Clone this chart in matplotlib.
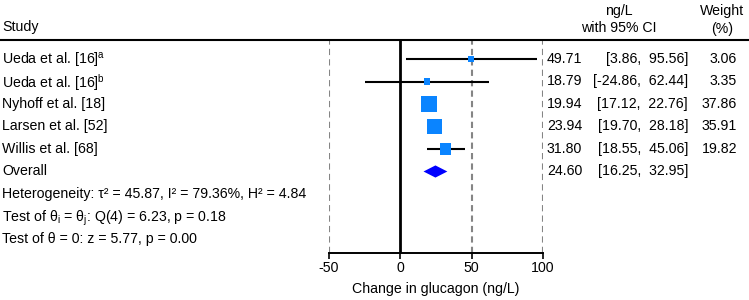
import matplotlib
matplotlib.use("Agg")
import matplotlib.pyplot as plt
from matplotlib import transforms
from matplotlib.lines import Line2D
from matplotlib.patches import Polygon

plt.rcParams['font.family'] = ['Liberation Sans', 'DejaVu Sans']
plt.rcParams['mathtext.fontset'] = 'custom'
plt.rcParams['mathtext.rm'] = 'Liberation Sans'
plt.rcParams['mathtext.it'] = 'Liberation Sans:italic'

# study-level data
studies = [r'Ueda et al. [16]$^\mathrm{a}$', r'Ueda et al. [16]$^\mathrm{b}$',
           'Nyhoff et al. [18]', 'Larsen et al. [52]', 'Willis et al. [68]']
est = [49.71, 18.79, 19.94, 23.94, 31.80]
ci_lo = [3.86, -24.86, 17.12, 19.70, 18.55]
ci_hi = [95.56, 62.44, 22.76, 28.18, 45.06]
weight = [3.06, 3.35, 37.86, 35.91, 19.82]

# pooled estimate
overall_est = 24.60
overall_lo = 16.25
overall_hi = 32.95

stats_lines = [
    'Heterogeneity: τ² = 45.87, I² = 79.36%, H² = 4.84',
    r'Test of θ$_\mathrm{i}$ = θ$_\mathrm{j}$: Q(4) = 6.23, p = 0.18',
    'Test of θ = 0: z = 5.77, p = 0.00',
]
xticks = [-50, 0, 50, 100]

fs = 10.2
W, H = 749, 300
fig = plt.figure(figsize=(W / 100, H / 100), dpi=100)
ax = fig.add_axes([329 / W, 1 - 253 / H, (543 - 329) / W, (253 - 40) / H])

row_h = 22.5
ax.set_xlim(-50, 100)
ax.set_ylim((253 - 59) / row_h, (40 - 59) / row_h)

for s in ['top', 'left', 'right']:
    ax.spines[s].set_visible(False)
ax.spines['bottom'].set_linewidth(1.4)
ax.set_yticks([])
ax.set_xticks(xticks)
ax.set_xticklabels([str(t) for t in xticks])
ax.tick_params(axis='x', length=4, width=1.2, labelsize=fs, pad=1.5)
ax.set_xlabel('Change in glucagon (ng/L)', fontsize=fs, labelpad=5)

# reference lines
for xv in [-50, 50, 100]:
    ax.axvline(xv, color='#858585', lw=1.5, ls=(0, (3, 2)), zorder=1)
ax.axvline(0, color='black', lw=2, zorder=2)

# study estimates
rows = list(range(len(studies)))
ax.hlines(rows, ci_lo, ci_hi, color='black', lw=1.5, zorder=3)
ax.scatter(est, rows, s=[max(3.5 * w, 19) for w in weight], marker='s',
           color='#0a84ff', zorder=4, linewidths=0)

# overall diamond
r0 = len(studies)
diamond = Polygon([(overall_lo, r0), (overall_est, r0 - 0.27),
                   (overall_hi, r0), (overall_est, r0 + 0.27)],
                  closed=True, color='#0000ff', zorder=4, lw=0)
ax.add_patch(diamond)

# text columns
tr = transforms.blended_transform_factory(fig.transFigure, ax.transData)
va = 'center_baseline'
dy = -0.07  # small nudge so text sits level with the markers
for i, name in enumerate(studies):
    y = i + dy
    fig.text(2 / W, y, name, transform=tr, va=va, ha='left', fontsize=fs)
    fig.text(547 / W, y, f'{est[i]:.2f}', transform=tr, va=va, ha='left', fontsize=fs)
    fig.text(688 / W, y, f'[{ci_lo[i]:.2f},  {ci_hi[i]:.2f}]', transform=tr,
             va=va, ha='right', fontsize=fs)
    fig.text(737 / W, y, f'{weight[i]:.2f}', transform=tr, va=va, ha='right', fontsize=fs)

y = r0 + dy
fig.text(2 / W, y, 'Overall', transform=tr, va=va, ha='left', fontsize=fs)
fig.text(547 / W, y, f'{overall_est:.2f}', transform=tr, va=va, ha='left', fontsize=fs)
fig.text(688 / W, y, f'[{overall_lo:.2f},  {overall_hi:.2f}]', transform=tr,
         va=va, ha='right', fontsize=fs)
for j, line in enumerate(stats_lines):
    fig.text(2 / W, r0 + 1 + j + dy, line, transform=tr, va=va, ha='left', fontsize=fs)

# headers
fig.text(2 / W, 1 - 26 / H, 'Study', va=va, ha='left', fontsize=fs)
fig.text(619 / W, 1 - 9 / H, 'ng/L', va=va, ha='center', fontsize=fs)
fig.text(619 / W, 1 - 27 / H, 'with 95% CI', va=va, ha='center', fontsize=fs)
fig.text(722 / W, 1 - 9 / H, 'Weight', va=va, ha='center', fontsize=fs)
fig.text(722 / W, 1 - 27 / H, '(%)', va=va, ha='center', fontsize=fs)

fig.add_artist(Line2D([0, 1], [1 - 40 / H, 1 - 40 / H], transform=fig.transFigure,
                      color='black', lw=1.5))

fig.savefig('out.png', dpi=100)
